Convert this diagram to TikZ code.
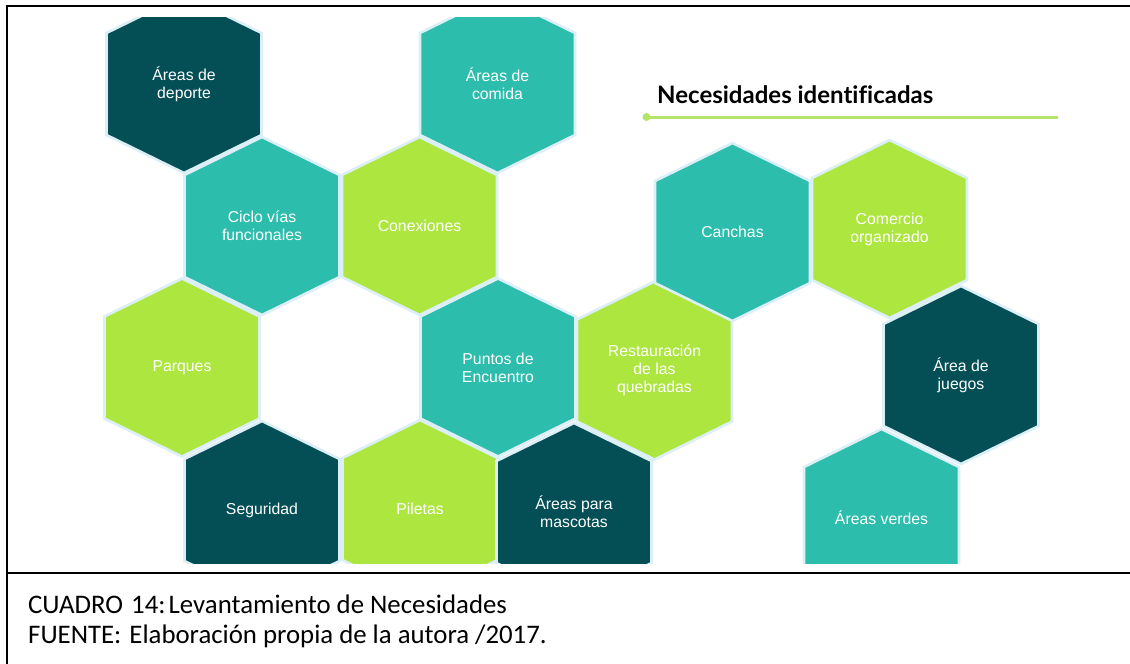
\documentclass[tikz,border=0pt]{standalone}
\usepackage{fontspec}
\setmainfont{Liberation Sans}
\newfontfamily\titlefont[Ligatures=NoCommon]{Lato}
\newfontfamily\capfont{Carlito}
\definecolor{hexdark}{HTML}{034F55}
\definecolor{hexteal}{HTML}{2CBDAD}
\definecolor{hexgreen}{HTML}{AEE640}
\definecolor{hexedge}{HTML}{DCEFF6}
\definecolor{titleline}{HTML}{B6E36A}
\tikzset{
  hexshape/.style={draw=hexedge, line width=2.6pt, line join=miter},
  hextext/.style={text=white, align=center, font=\fontsize{15.8}{18}\selectfont, inner sep=0pt},
  frameline/.style={line width=2.4pt, black},
  captext/.style={anchor=base west, inner sep=0pt, font=\capfont\fontsize{26.8}{30}\selectfont},
}
\newcommand\hexa[5]{%
  \filldraw[hexshape, fill=#4] (#2,#3) ++(0,-89) -- ++(77.5,38) -- ++(0,102) -- ++(-77.5,38) -- ++(-77.5,-38) -- ++(0,-102) -- cycle;
  \node[hextext] (#1) at (#2,#3) {#5};}
\begin{document}
\begin{tikzpicture}[x=1pt,y=-1pt]
\useasboundingbox (0,0) rectangle (1130,664);
\fill[white] (0,0) rectangle (1130,664);
\begin{scope}
\clip (8,17) rectangle (1130,563);
\hexa{deporte}{184}{84}{hexdark}{Áreas de\\deporte}
\hexa{comida}{497.5}{84}{hexteal}{Áreas de\\comida}
\hexa{ciclo}{262}{226}{hexteal}{Ciclo vías\\funcionales}
\hexa{conex}{419.5}{226}{hexgreen}{Conexiones}
\hexa{parques}{182}{367.5}{hexgreen}{Parques}
\hexa{puntos}{498}{367.5}{hexteal}{Puntos de\\Encuentro}
\hexa{seguridad}{262}{510}{hexdark}{Seguridad}
\hexa{piletas}{420}{509}{hexgreen}{Piletas}
\hexa{mascotas}{574}{512}{hexdark}{Áreas para\\mascotas}
\hexa{restaura}{654.5}{370.5}{hexgreen}{Restauración\\de las\\quebradas}
\hexa{canchas}{732.5}{232}{hexteal}{Canchas}
\hexa{comercio}{889.5}{229}{hexgreen}{Comercio\\organizado}
\hexa{juegos}{961}{375}{hexdark}{Área de\\juegos}
\hexa{verdes}{881.5}{518}{hexteal}{Áreas verdes}
\end{scope}
\node[anchor=base west, inner sep=0pt, font=\titlefont\bfseries\fontsize{24}{28}\selectfont] (title) at (657,103) {Necesidades identificadas};
\coordinate (lineA) at (646.5,117);
\coordinate (lineB) at (1058,117);
\draw[titleline, line width=3pt] (lineA) -- (lineB);
\fill[titleline] (lineA) circle (4);
\draw[frameline] (7,6) -- (1130,6);
\draw[frameline] (7,5) -- (7,664);
\draw[frameline] (7,573) -- (1130,573);
\node[captext] (cap1) at (28,613) {CUADRO\hspace{0.3em}14:\hspace{0.12em}Levantamiento de Necesidades};
\node[captext] (cap2) at (28,643) {FUENTE:\hspace{0.3em}Elaboración propia de la autora /2017.};
\end{tikzpicture}
\end{document}
